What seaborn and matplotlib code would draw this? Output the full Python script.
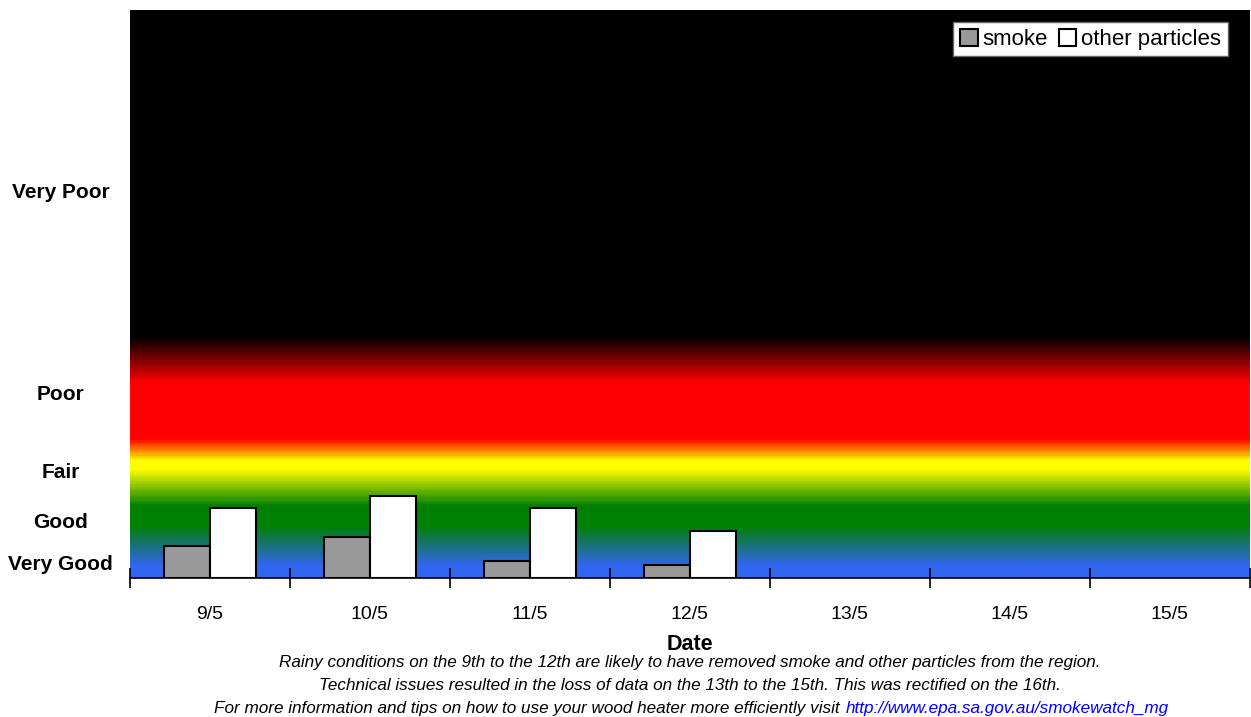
import matplotlib
matplotlib.use("Agg")
import matplotlib.pyplot as plt
import numpy as np
import pandas as pd
import seaborn as sns
from matplotlib.colors import LinearSegmentedColormap

# data (index units)
dates = ['9/5', '10/5', '11/5', '12/5', '13/5', '14/5', '15/5']
smoke = [32, 41, 17, 13, np.nan, np.nan, np.nan]
other = [70, 82, 70, 47, np.nan, np.nan, np.nan]
band_labels = ['Very Good', 'Good', 'Fair', 'Poor', 'Very Poor']
band_pos = [15, 57, 108, 186, 388]
y_top = 568

my_data = pd.DataFrame({
    'Date': dates * 2,
    'Value': smoke + other,
    'Kind': ['smoke'] * len(dates) + ['other particles'] * len(dates),
})

sns.set_style("white")
plt.rcParams['font.family'] = ['Liberation Sans', 'DejaVu Sans']
plt.rcParams['text.color'] = 'black'

fig = plt.figure(figsize=(12.51, 7.17), dpi=100)
ax = fig.add_axes([130 / 1251, 139 / 717, 1120 / 1251, 568 / 717])

# background gradient blue -> green -> yellow -> red -> black
stops = [(0.0, '#3166f0'), (0.019, '#3166f0'), (0.090, '#008000'), (0.125, '#008000'),
         (0.190, '#ffff00'), (0.204, '#ffff00'), (0.243, '#ff0000'), (0.343, '#ff0000'),
         (0.424, '#000000'), (1.0, '#000000')]
cmap = LinearSegmentedColormap.from_list('air', stops)
grad = np.linspace(0, 1, 600).reshape(-1, 1)
ax.imshow(grad, extent=[-0.5, 6.5, 0, y_top], aspect='auto', cmap=cmap,
          origin='lower', zorder=0, interpolation='bilinear')

sns.barplot(data=my_data, x='Date', y='Value', hue='Kind', order=dates,
            hue_order=['smoke', 'other particles'],
            palette=['#999999', '#ffffff'], width=0.58, edgecolor='black',
            linewidth=1.5, saturation=1, ax=ax, zorder=2)

ax.set_xlim(-0.5, 6.5)
ax.set_ylim(0, y_top)

ax.set_yticks(band_pos)
ax.set_yticklabels(band_labels, fontsize=15, fontweight='bold')
for lab in ax.get_yticklabels():
    lab.set_ha('center')
ax.tick_params(axis='y', length=0, pad=50, labelcolor='black')

ax.set_xticks(range(len(dates)))
ax.set_xticklabels(dates, fontsize=14)
ax.set_xticks(np.arange(-0.5, 7, 1), minor=True)
ax.tick_params(axis='x', which='major', length=0, pad=20, labelcolor='black')
ax.tick_params(axis='x', which='minor', bottom=True, length=14, width=1.2,
               direction='inout', color='black')
ax.set_xlabel('')
ax.set_ylabel('')

for s in ['top', 'right', 'left']:
    ax.spines[s].set_visible(False)
ax.spines['bottom'].set_color('black')
ax.spines['bottom'].set_linewidth(1.2)

leg = ax.legend(loc='upper right', bbox_to_anchor=(0.980, 0.979), ncol=2, fontsize=16,
                frameon=True, fancybox=False, edgecolor='#666666', framealpha=1,
                handlelength=0.8, handleheight=0.8, handletextpad=0.2,
                columnspacing=0.5, borderpad=0.3, borderaxespad=0)
leg.get_frame().set_linewidth(1)
leg.set_zorder(5)

fig.text(690 / 1251, 1 - 645 / 717, 'Date', ha='center', va='center',
         fontsize=15.5, fontweight='bold')
fig.text(690 / 1251, 1 - 663 / 717,
         'Rainy conditions on the 9th to the 12th are likely to have removed smoke and other particles from the region.',
         ha='center', va='center', fontsize=12.3, style='italic')
fig.text(690 / 1251, 1 - 686 / 717,
         'Technical issues resulted in the loss of data on the 13th to the 15th. This was rectified on the 16th.',
         ha='center', va='center', fontsize=12.3, style='italic')
fig.text(840 / 1251, 1 - 708 / 717,
         'For more information and tips on how to use your wood heater more efficiently visit',
         ha='right', va='center', fontsize=12.3, style='italic')
fig.text(846 / 1251, 1 - 708 / 717, 'http://www.epa.sa.gov.au/smokewatch_mg',
         ha='left', va='center', fontsize=12.3, style='italic', color='#0000ff')

plt.savefig('out.png', dpi=100)
